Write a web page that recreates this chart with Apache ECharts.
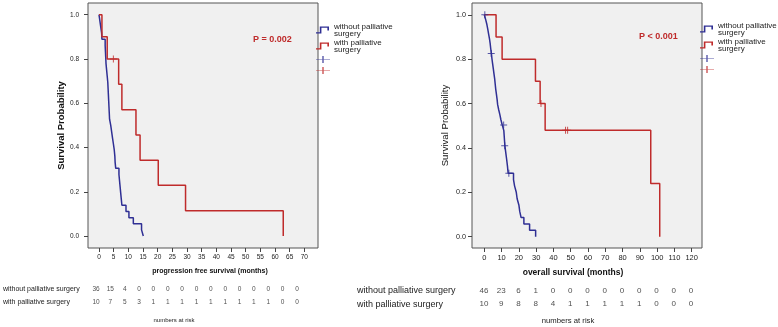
<!DOCTYPE html>
<html>
<head>
<meta charset="utf-8">
<script src="https://cdn.jsdelivr.net/npm/echarts@6/dist/echarts.min.js"></script>
<style>
  html, body { margin: 0; padding: 0; background: #fff; }
  #km-chart { width: 778px; height: 327px; }
</style>
</head>
<body>
<div id="km-chart"></div>
<script>
// progression free survival: [months, survival probability] after each drop
const pfsWithout = [[0,1],[0.3,0.972],[0.6,0.944],[0.9,0.917],[1.0,0.889],[2.1,0.861],[2.2,0.833],[2.3,0.806],[2.4,0.778],[2.6,0.75],[2.8,0.722],[3.0,0.694],[3.1,0.667],[3.2,0.639],[3.3,0.611],[3.4,0.583],[3.5,0.556],[3.6,0.528],[4.0,0.5],[4.3,0.472],[4.6,0.444],[4.9,0.417],[5.2,0.389],[5.4,0.361],[5.5,0.333],[5.7,0.306],[6.8,0.278],[7.0,0.25],[7.2,0.222],[7.4,0.194],[7.6,0.167],[7.8,0.139],[9.2,0.111],[10.2,0.083],[11.7,0.056],[14.5,0.028],[15.1,0]];
const pfsWith = [[0,1],[1.0,0.9],[2.8,0.8],[6.7,0.686],[7.8,0.571],[12.6,0.457],[14.0,0.343],[20.2,0.229],[29.5,0.114],[62.8,0]];
const pfsWithCensored = [[4.9,0.8]];

// overall survival
const osWithout = [[0,1],[0.8,0.978],[1.5,0.956],[2.0,0.935],[2.5,0.913],[3.0,0.891],[3.4,0.87],[3.7,0.848],[4.1,0.826],[4.4,0.803],[4.8,0.78],[5.2,0.757],[5.6,0.734],[6.0,0.711],[6.3,0.688],[6.6,0.665],[7.0,0.642],[7.4,0.619],[7.7,0.596],[8.3,0.573],[9.0,0.55],[9.6,0.527],[10.4,0.503],[11.3,0.478],[11.5,0.455],[11.7,0.432],[11.9,0.41],[12.4,0.38],[12.9,0.35],[13.4,0.318],[13.8,0.286],[16.9,0.257],[17.5,0.229],[18.5,0.2],[19.0,0.171],[20.0,0.143],[20.5,0.114],[21.3,0.086],[22.9,0.057],[26.2,0.029],[29.7,0]];
const osWithoutCensored = [[0.3,1],[4.0,0.826],[11.2,0.503],[11.8,0.41],[14.2,0.286]];
const osWith = [[0,1],[6.8,0.9],[10.3,0.8],[29.6,0.7],[32.3,0.6],[35.2,0.48],[96.3,0.24],[101.5,0]];
const osWithCensored = [[32.8,0.6],[47.0,0.48],[48.2,0.48]];

const probTicks = [0, 0.2, 0.4, 0.6, 0.8, 1.0];
const pfsTicks = [0,5,10,15,20,25,30,35,40,45,50,55,60,65,70];
const osTicks = [0,10,20,30,40,50,60,70,80,90,100,110,120];

const groupNames = ['without palliative surgery', 'with palliative surgery'];
const censorNames = ['censored without', 'censored with'];

// numbers at risk
const pfsRiskWithout = [36,15,4,0,0,0,0,0,0,0,0,0,0,0,0];
const pfsRiskWith = [10,7,5,3,1,1,1,1,1,1,1,1,1,0,0];
const osRiskWithout = [46,23,6,1,0,0,0,0,0,0,0,0,0];
const osRiskWith = [10,9,8,8,4,1,1,1,1,1,0,0,0];

const FONT = '"Liberation Sans", Arial, sans-serif';
const BLUE = '#2f2f94';
const RED = '#bf2b2b';
const STEP_ICON = 'path://M0,13H7V0H24V9H21V3H10V16H0Z';
const PLUS_ICON = 'path://M0,6.3H16V7.7H0Z M7.2,0H8.8V14H7.2Z';
const CENSOR_MARK = 'path://M0,3H7V4H0Z M3,0H4V7H3Z';

const chart = echarts.init(document.getElementById('km-chart'));

function kmLine(name, data, color, axis) {
  return {
    name: name,
    type: 'line',
    xAxisIndex: axis,
    yAxisIndex: axis,
    data: data,
    step: 'end',
    symbol: 'none',
    showSymbol: false,
    color: color,
    lineStyle: { color: color, width: 1.5 },
    silent: true,
    z: 3
  };
}

function censorMarks(name, data, color, axis) {
  return {
    name: name,
    type: 'scatter',
    xAxisIndex: axis,
    yAxisIndex: axis,
    data: data,
    symbol: CENSOR_MARK,
    symbolSize: 7,
    color: color,
    itemStyle: { color: color },
    silent: true,
    z: 4
  };
}

function riskRow(times, counts, row, axis, fontSize) {
  return {
    type: 'scatter',
    xAxisIndex: axis,
    yAxisIndex: axis,
    symbolSize: 1,
    itemStyle: { color: 'rgba(0,0,0,0)' },
    silent: true,
    data: times.map((t, i) => [t, row, counts[i]]),
    label: {
      show: true,
      position: 'inside',
      formatter: p => p.value[2],
      fontSize: fontSize,
      fontFamily: FONT,
      color: '#222'
    }
  };
}

function mainXAxis(grid, min, max, ticks, name, fontSize, nameSize, namePad) {
  return {
    type: 'value',
    gridIndex: grid,
    min: min,
    max: max,
    axisLine: { show: false, onZero: false },
    axisTick: { show: true, customValues: ticks, length: 4, lineStyle: { color: '#444' } },
    axisLabel: { customValues: ticks, fontSize: fontSize, fontFamily: FONT, color: '#222', margin: 6 },
    splitLine: { show: false },
    name: name,
    nameLocation: 'middle',
    nameGap: 20,
    nameTextStyle: { fontSize: nameSize, fontWeight: 'bold', fontFamily: FONT, color: '#111', padding: namePad }
  };
}

function mainYAxis(grid, min, max, fontSize, margin, nameSize, weight) {
  return {
    type: 'value',
    gridIndex: grid,
    min: min,
    max: max,
    axisLine: { show: false, onZero: false },
    axisTick: { show: true, customValues: probTicks, length: 4, lineStyle: { color: '#444' } },
    axisLabel: { customValues: probTicks, formatter: v => v.toFixed(1), fontSize: fontSize, fontFamily: FONT, color: '#222', margin: margin },
    splitLine: { show: false },
    name: 'Survival Probability',
    nameLocation: 'middle',
    nameGap: 22,
    nameTextStyle: { fontSize: nameSize, fontWeight: weight, fontFamily: FONT, color: '#111' }
  };
}

function riskXAxis(grid, min, max) {
  return { type: 'value', gridIndex: grid, min: min, max: max, show: false };
}

function riskYAxis(grid, margin, fontSize) {
  return {
    type: 'category',
    gridIndex: grid,
    data: groupNames,
    inverse: true,
    axisLine: { show: false },
    axisTick: { show: false },
    axisLabel: { align: 'left', margin: margin, fontSize: fontSize, fontFamily: FONT, color: '#222' }
  };
}

function lineLegend(left, top) {
  return {
    orient: 'vertical',
    left: left,
    top: top,
    padding: 0,
    itemWidth: 13,
    itemHeight: 7,
    itemGap: -8,
    symbolKeepAspect: false,
    selectedMode: false,
    data: groupNames.map(n => ({ name: n, icon: STEP_ICON })),
    formatter: n => n.replace(' surgery', '\nsurgery'),
    textStyle: { fontSize: 8, lineHeight: 7, fontFamily: FONT, color: '#222', padding: [10, 0, 0, 0] }
  };
}

function censorLegend(left, top) {
  return {
    orient: 'vertical',
    left: left,
    top: top,
    padding: 0,
    itemWidth: 14,
    itemHeight: 7,
    itemGap: 4,
    symbolKeepAspect: false,
    selectedMode: false,
    data: censorNames.map(n => ({ name: n, icon: PLUS_ICON })),
    formatter: () => ''
  };
}

const option = {
  animation: false,
  backgroundColor: '#ffffff',
  title: [
    { text: 'P = 0.002', left: 253, top: 35, padding: 0, textStyle: { fontSize: 9, fontWeight: 'bold', color: RED, fontFamily: FONT } },
    { text: 'P < 0.001', left: 639, top: 32, padding: 0, textStyle: { fontSize: 9, fontWeight: 'bold', color: RED, fontFamily: FONT } },
    { text: 'numbers at risk', left: 174, top: 317, padding: 0, textAlign: 'center', textStyle: { fontSize: 6, fontWeight: 'normal', color: '#222', fontFamily: FONT } },
    { text: 'numbers at risk', left: 568, top: 317, padding: 0, textAlign: 'center', textStyle: { fontSize: 7.7, fontWeight: 'normal', color: '#222', fontFamily: FONT } }
  ],
  legend: [
    lineLegend(316, 18),
    censorLegend(316, 56),
    lineLegend(700, 17),
    censorLegend(700, 55)
  ],
  grid: [
    { left: 88, top: 3, width: 230, height: 245, show: true, backgroundColor: '#f0f0f0', borderColor: '#555', borderWidth: 1 },
    { left: 96, top: 283, width: 201, height: 26 },
    { left: 472, top: 3, width: 230, height: 245, show: true, backgroundColor: '#f0f0f0', borderColor: '#555', borderWidth: 1 },
    { left: 484, top: 284, width: 207, height: 27 }
  ],
  xAxis: [
    mainXAxis(0, -3.75, 74.65, pfsTicks, 'progression free survival (months)', 6.5, 7, [0, 0, 0, 14]),
    riskXAxis(1, 0, 70),
    mainXAxis(2, -7.12, 125.96, osTicks, 'overall survival (months)', 7.5, 8.5, [0, 28, 0, 0]),
    riskXAxis(3, 0, 120)
  ],
  yAxis: [
    mainYAxis(0, -0.054, 1.053, 6.5, 9, 9.5, 'bold'),
    riskYAxis(1, 93, 7),
    mainYAxis(2, -0.051, 1.053, 7.2, 6, 9.6, 'normal'),
    riskYAxis(3, 127, 9)
  ],
  series: [
    kmLine(groupNames[0], pfsWithout, BLUE, 0),
    kmLine(groupNames[1], pfsWith, RED, 0),
    censorMarks(censorNames[1], pfsWithCensored, RED, 0),
    censorMarks(censorNames[0], [], BLUE, 0),
    riskRow(pfsTicks, pfsRiskWithout, groupNames[0], 1, 6.5),
    riskRow(pfsTicks, pfsRiskWith, groupNames[1], 1, 6.5),
    kmLine(groupNames[0], osWithout, BLUE, 2),
    kmLine(groupNames[1], osWith, RED, 2),
    censorMarks(censorNames[0], osWithoutCensored, BLUE, 2),
    censorMarks(censorNames[1], osWithCensored, RED, 2),
    riskRow(osTicks, osRiskWithout, groupNames[0], 3, 8),
    riskRow(osTicks, osRiskWith, groupNames[1], 3, 8)
  ]
};

chart.setOption(option);
</script>
</body>
</html>
